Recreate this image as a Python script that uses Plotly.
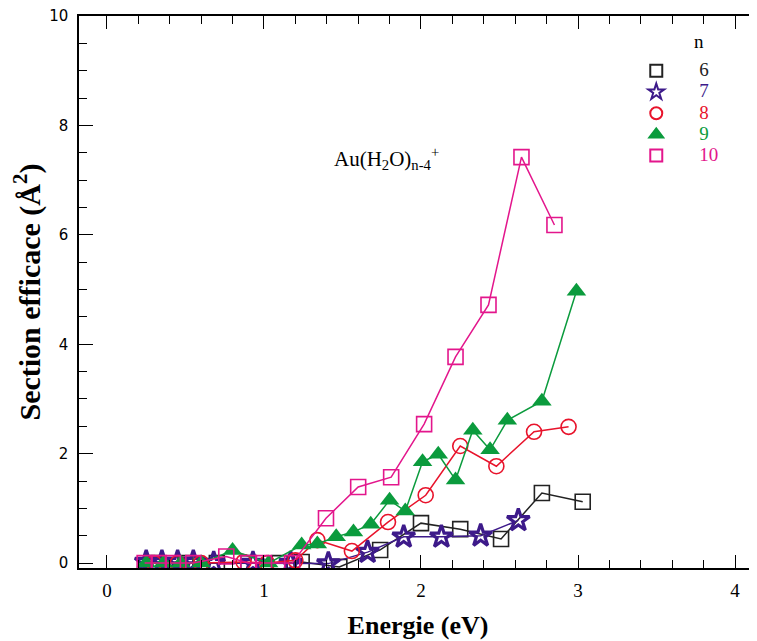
import plotly.graph_objects as go

# ---------------- data ----------------
energy_6 = [0.30, 0.50, 0.70, 0.90, 1.10, 1.24, 1.48, 1.74, 2.00, 2.25, 2.51, 2.77, 3.03]
sigma_6 = [0.0, 0.0, 0.0, 0.0, 0.0, 0.02, -0.07, 0.24, 0.73, 0.62, 0.44, 1.28, 1.12]

energy_7 = [0.25, 0.35, 0.45, 0.55, 0.68, 0.93, 1.17, 1.41, 1.66, 1.89, 2.13, 2.38, 2.62]
sigma_7 = [0.02, 0.02, 0.02, 0.02, 0.0, 0.0, 0.0, -0.01, 0.20, 0.48, 0.48, 0.50, 0.78]

energy_8 = [0.30, 0.45, 0.60, 0.87, 1.02, 1.20, 1.34, 1.56, 1.79, 2.03, 2.25, 2.48, 2.72, 2.94]
sigma_8 = [0.0, 0.0, 0.0, 0.02, 0.0, 0.05, 0.42, 0.22, 0.75, 1.24, 2.14, 1.77, 2.40, 2.49]

energy_9 = [0.25, 0.36, 0.47, 0.60, 0.80, 1.03, 1.24, 1.34, 1.46, 1.57, 1.68, 1.80, 1.90,
            2.01, 2.11, 2.22, 2.33, 2.44, 2.55, 2.77, 2.99]
sigma_9 = [0.0, 0.0, 0.0, 0.0, 0.23, 0.0, 0.33, 0.35, 0.48, 0.57, 0.71, 1.15, 0.95,
           1.85, 1.99, 1.52, 2.43, 2.07, 2.61, 2.96, 4.97]

energy_10 = [0.24, 0.33, 0.42, 0.55, 0.76, 0.90, 1.00, 1.18, 1.395, 1.60, 1.81, 2.02,
             2.22, 2.43, 2.64, 2.85]
sigma_10 = [0.0, 0.0, 0.0, 0.0, 0.12, 0.0, 0.0, 0.0, 0.82, 1.39, 1.57, 2.54,
            3.77, 4.72, 7.42, 6.18]

series_names = ["6", "7", "8", "9", "10"]
x_tick_vals = [0, 1, 2, 3, 4]
y_tick_vals = [0, 2, 4, 6, 8, 10]

# ---------------- styles ----------------
colors = ["#222222", "#3d1a8a", "#e8132b", "#0b9b3d", "#e3168c"]
symbols = ["square-open", "star-open", "circle-open", "triangle-up", "square-open"]
sizes = [15, 17, 15, 17, 15]
mlw = [1.6, 3.2, 1.6, 0, 1.6]

xs = [energy_6, energy_7, energy_8, energy_9, energy_10]
ys = [sigma_6, sigma_7, sigma_8, sigma_9, sigma_10]

SERIF = "Liberation Serif"

fig = go.Figure()
for i in range(5):
    fig.add_trace(go.Scatter(
        x=xs[i], y=ys[i], mode="lines+markers",
        line=dict(color=colors[i], width=1.5),
        marker=dict(symbol=symbols[i], size=sizes[i], color=colors[i],
                    line=dict(color=colors[i], width=mlw[i])),
        showlegend=False, hoverinfo="skip",
    ))
# legend entries (markers only, like the reference key)
for i in range(5):
    fig.add_trace(go.Scatter(
        x=[None], y=[None], mode="markers",
        marker=dict(symbol=symbols[i], size=12, color=colors[i],
                    line=dict(color=colors[i], width=2.4 if i == 1 else 1.5)),
        name=f'<span style="color:{colors[i]};font-size:19px">{series_names[i]}</span>',
        showlegend=True,
    ))

# the page adds an 8px body margin, so the figure is 8px smaller
fig.update_layout(
    width=749, height=633,
    margin=dict(l=71, r=0, t=8, b=73),
    paper_bgcolor="white", plot_bgcolor="white",
    showlegend=True,
    legend=dict(x=0.788, y=0.929, xanchor="left", yanchor="top",
                font=dict(family=SERIF, size=14, color="black"),
                itemwidth=76, itemsizing="constant",
                bgcolor="rgba(0,0,0,0)", borderwidth=0,
                tracegroupgap=0),
    annotations=[
        dict(text="n", xref="paper", yref="paper", x=0.914, y=0.953,
             xanchor="center", yanchor="middle", showarrow=False,
             font=dict(family=SERIF, size=19, color="black")),
        dict(text="Au(H<sub>2</sub>O)<sub>n-4</sub><sup>+</sup>", xref="paper", yref="paper",
             x=0.373, y=0.742, xanchor="left", yanchor="middle", showarrow=False,
             font=dict(family=SERIF, size=21, color="black")),
    ],
)

fig.update_xaxes(
    range=[-0.178, 4.14], tickmode="array", tickvals=x_tick_vals,
    ticks="inside", ticklen=13, tickwidth=1.2, tickcolor="black",
    minor=dict(dtick=0.2, ticks="inside", ticklen=8, tickwidth=1.2, tickcolor="black"),
    showline=True, linecolor="black", linewidth=1.5, mirror="ticks",
    showgrid=False, zeroline=False,
    tickfont=dict(family=SERIF, size=19, color="black"),
    ticklabelstandoff=4, ticklabeloverflow="allow",
    title=dict(text="<b>Energie (eV)</b>", font=dict(family=SERIF, size=26, color="black"),
               standoff=16),
)
fig.update_yaxes(
    range=[-0.09, 10.0], tickmode="array", tickvals=y_tick_vals,
    ticks="inside", ticklen=14, tickwidth=1.2, tickcolor="black",
    minor=dict(dtick=0.5, ticks="inside", ticklen=8, tickwidth=1.2, tickcolor="black"),
    showline=True, linecolor="black", linewidth=1.5,
    showgrid=False, zeroline=False,
    tickfont=dict(family="DejaVu Sans", size=15, color="black"),
    ticklabelstandoff=6, ticklabeloverflow="allow",
    title=dict(text="<b>Section efficace (Å<sup>2</sup>)</b>",
               font=dict(family=SERIF, size=30, color="black"), standoff=9),
)

fig.write_html("out.html")
